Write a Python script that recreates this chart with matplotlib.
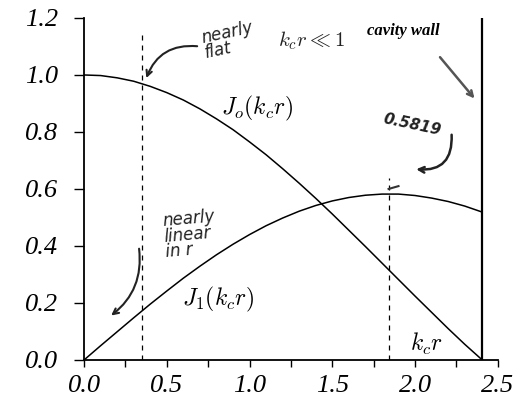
import numpy as np
import matplotlib.pyplot as plt

# Valores (k_c r de 0 a la pared de la cavidad)
kr = [0.0, 0.1, 0.2, 0.3, 0.4, 0.5, 0.6, 0.7, 0.8, 0.9, 1.0, 1.1, 1.2,
      1.3, 1.4, 1.5, 1.6, 1.7, 1.8, 1.9, 2.0, 2.1, 2.2, 2.3, 2.4, 2.405]
j0 = [1.000, 0.998, 0.990, 0.978, 0.960, 0.938, 0.912, 0.881, 0.846,
      0.808, 0.765, 0.720, 0.671, 0.620, 0.567, 0.512, 0.455, 0.398,
      0.340, 0.282, 0.224, 0.167, 0.110, 0.055, 0.003, 0.0]
j1 = [0.000, 0.050, 0.099, 0.148, 0.196, 0.242, 0.287, 0.329, 0.369,
      0.406, 0.440, 0.471, 0.498, 0.522, 0.542, 0.558, 0.570, 0.578,
      0.582, 0.582, 0.577, 0.568, 0.556, 0.540, 0.520, 0.519]

x_flat = 0.35      # linea punteada "nearly flat"
x_max = 1.84       # maximo de J1
y_max = 0.5819
x_wall = 2.405     # pared de la cavidad

plt.rcParams['mathtext.fontset'] = 'cm'
tick_font = {'family': 'Liberation Serif', 'style': 'italic', 'size': 19}

fig = plt.figure(figsize=(5.29, 4.09), dpi=100)
ax = fig.add_axes([0.159, 0.120, 0.782, 0.836])

ax.plot(kr, j0, color='black', lw=1.1)
ax.plot(kr, j1, color='black', lw=1.1)
ax.plot([x_flat, x_flat], [0, 1.15], color='black', lw=0.9, ls=(0, (4, 4)))
ax.plot([x_max, x_max], [0, 0.64], color='black', lw=0.9, ls=(0, (4, 4)))
ax.plot([x_max, x_max + 0.06], [0.60, 0.61], color='#333333', lw=1.5)
ax.plot([x_wall, x_wall], [0, 1.2], color='black', lw=1.6)

# Etiquetas de las curvas
ax.text(0.83, 0.86, r'$J_o(k_c r)$', fontsize=17)
ax.text(0.59, 0.19, r'$J_1(k_c r)$', fontsize=17)
ax.text(1.97, 0.03, r'$k_c r$', fontsize=17)
ax.text(1.71, 1.14, 'cavity wall', family='Liberation Serif', style='italic',
        weight='bold', fontsize=12)

# Anotaciones manuscritas
hand = {'family': 'DejaVu Sans', 'style': 'italic', 'color': '#222222'}
ax.text(0.70, 1.06, 'nearly\nflat', fontsize=12, rotation=12,
        linespacing=0.8, **hand)
ax.text(1.17, 1.10, r'$k_c r \ll 1$', fontsize=15, color='#222222')
ax.text(0.47, 0.36, 'nearly\nlinear\nin r', fontsize=12, rotation=5,
        linespacing=0.85, **hand)
ax.text(1.80, 0.79, '0.5819', fontsize=11, rotation=-12, weight='bold', **hand)
ax.annotate('', xy=(x_flat + 0.02, 0.98), xytext=(0.70, 1.10),
            arrowprops=dict(arrowstyle='->', color='#222222', lw=1.5,
                            connectionstyle='arc3,rad=0.4'))
ax.annotate('', xy=(0.15, 0.15), xytext=(x_flat - 0.02, 0.40),
            arrowprops=dict(arrowstyle='->', color='#222222', lw=1.5,
                            connectionstyle='arc3,rad=-0.3'))
ax.annotate('', xy=(1.99, 0.67), xytext=(2.22, 0.80),
            arrowprops=dict(arrowstyle='->', color='#222222', lw=1.8,
                            connectionstyle='arc3,rad=-0.6'))
ax.annotate('', xy=(2.37, 0.91), xytext=(2.14, 1.07),
            arrowprops=dict(arrowstyle='->', color='#555555', lw=1.8))

# Ejes
ax.set_xlim(0, 2.5)
ax.set_ylim(0, 1.2)
ax.set_xticks(np.arange(0, 2.51, 0.5))
ax.set_xticks(np.arange(0.25, 2.5, 0.5), minor=True)
ax.set_yticks(np.arange(0, 1.21, 0.2))
ax.set_xticklabels([f'{v:.1f}' for v in np.arange(0, 2.51, 0.5)], fontdict=tick_font)
ax.set_yticklabels([f'{v:.1f}' for v in np.arange(0, 1.21, 0.2)], fontdict=tick_font)
ax.tick_params(axis='y', direction='out', length=7, width=1, pad=12)
ax.tick_params(axis='x', which='both', direction='out', length=5, width=1, pad=6)
for s in ['top', 'right']:
    ax.spines[s].set_visible(False)
ax.spines['left'].set_linewidth(1.3)
ax.spines['bottom'].set_linewidth(1.3)

plt.savefig('out.png', dpi=100)
